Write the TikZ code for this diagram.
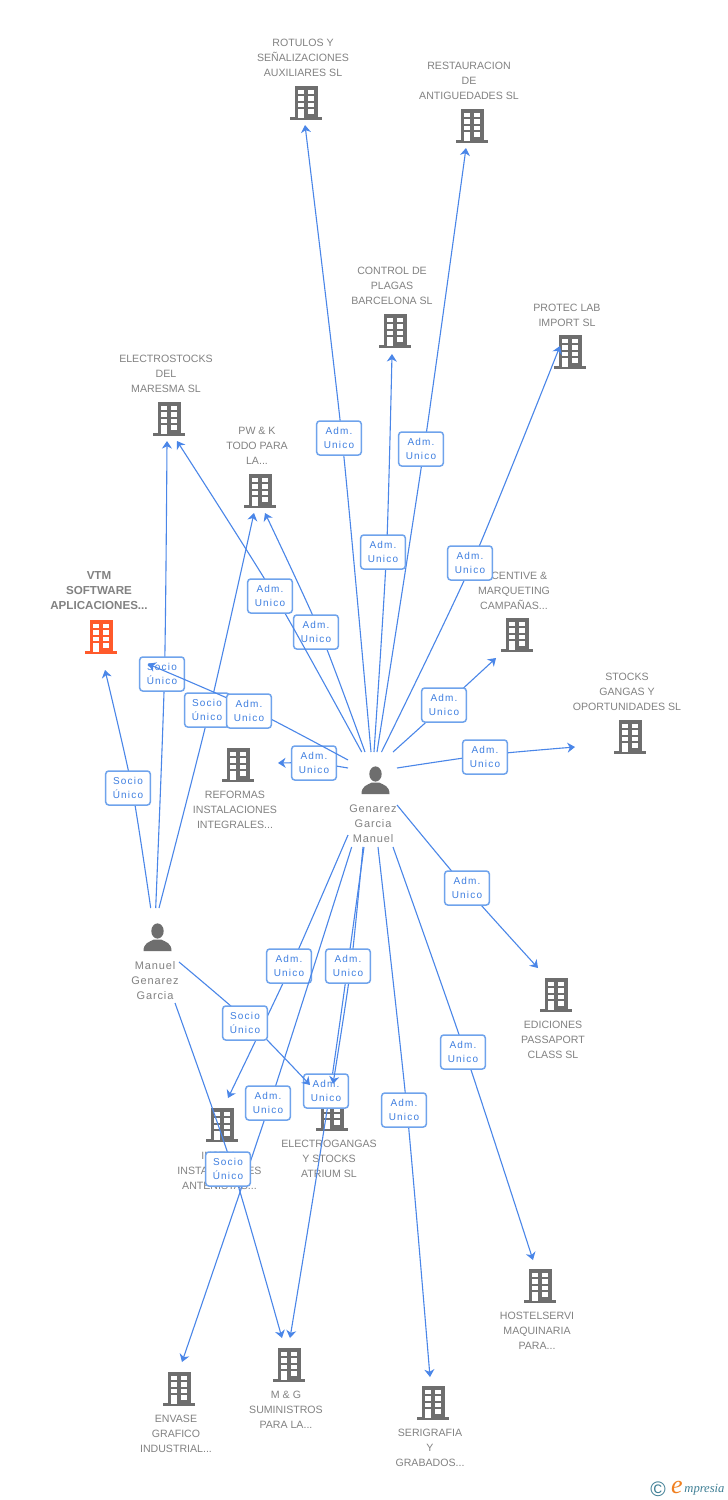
\documentclass[tikz,border=0pt]{standalone}
\usepackage{fontspec}
\setmainfont{Liberation Sans}
\newfontfamily\lblfont[LetterSpace=12]{Liberation Sans}
\newfontfamily\peoplefont[LetterSpace=8]{Liberation Sans}
\newfontfamily\logofont{Liberation Serif}
\usetikzlibrary{arrows.meta}
\definecolor{edgeblue}{HTML}{4A86E8}
\definecolor{boxblue}{HTML}{6FA3EC}
\definecolor{txtblue}{HTML}{3F7FE0}
\definecolor{txtgrey}{HTML}{828282}
\definecolor{bldgrey}{HTML}{6E6E6E}
\definecolor{bldred}{HTML}{FF5A2B}
\definecolor{logoteal}{HTML}{3F7F95}
\definecolor{logoorange}{HTML}{F08020}
\tikzset{
  x=0.5pt,y=-0.5pt,
  conn/.style={draw=edgeblue,line width=0.55pt},
  arrowed/.style={conn,-{Stealth[length=3.8pt,width=5pt,inset=1.2pt]}},
  lblbox/.style={draw=boxblue,line width=0.75pt,fill=white,rounded corners=1.5pt,minimum width=22.3pt,minimum height=17pt,inner sep=0pt,align=center,text=txtblue,font=\lblfont\fontsize{5pt}{7.4pt}\selectfont},
  nametxt/.style={text=txtgrey,align=center,inner sep=0pt,font=\fontsize{5.3pt}{7.5pt}\selectfont},
  boldtxt/.style={nametxt,font=\fontsize{5.8pt}{7.5pt}\selectfont\bfseries},
  persontxt/.style={nametxt,font=\peoplefont\fontsize{5.5pt}{7.5pt}\selectfont},
  iconbox/.style={minimum width=16pt,minimum height=17pt,inner sep=0pt},
}
% building icon: name, x, y, colour
\newcommand{\bldicon}[4]{%
  \node[iconbox] (#1) at (#2,#3) {};
  \begin{scope}[shift={(#2,#3)}]
    \fill[#4] (-11,-17) rectangle (11.5,14.5);
    \fill[#4] (-16,14.3) rectangle (16.3,17);
    \foreach \wy/\wz in {-13/-8.8,-6.7/-2.3,-0.2/4.2}{
      \fill[white] (-7.7,\wy) rectangle (-2.2,\wz);
      \fill[white] (2.3,\wy) rectangle (7.5,\wz);
    }
    \fill[white] (-7.7,6.3) rectangle (-2.2,14.5);
    \fill[white] (2.3,6.3) rectangle (7.5,11);
  \end{scope}}
% person icon: name, x, y
\newcommand{\personicon}[3]{%
  \node[iconbox] (#1) at (#2,#3) {};
  \begin{scope}[shift={(#2,#3)}]
    \fill[bldgrey] (0.5,-6) ellipse (6.2 and 7.6);
    \fill[bldgrey] (-13.5,14) .. controls (-13.5,6) and (-8,5) .. (-3,2.5) -- (4,2.5) .. controls (9,5) and (14.5,6) .. (14.5,14) -- cycle;
  \end{scope}}
% connector: id, start, label centre, point the line passes under the label, tip, label line 1, line 2
\newcommand{\link}[7]{%
  \coordinate (s#1) at (#2);
  \coordinate (c#1) at (#3);
  \coordinate (p#1) at (#4);
  \coordinate (t#1) at (#5);
  \draw[arrowed] plot[smooth,tension=0.45] coordinates {(s#1) (p#1) (t#1)};
  \node[lblbox] (l#1) at (c#1) {#6\\#7};}
\begin{document}
\begin{tikzpicture}
\useasboundingbox (0,0) rectangle (728,1500);
\fill[white] (0,0) rectangle (728,1500);
% companies
\bldicon{rotulos}{306}{103}{bldgrey}
\node[nametxt] (nrotulos) at (303,57.7) {ROTULOS Y\\SEÑALIZACIONES\\AUXILIARES SL};
\bldicon{restauracion}{472}{126}{bldgrey}
\node[nametxt] (nrestauracion) at (469,80.7) {RESTAURACION\\DE\\ANTIGUEDADES SL};
\bldicon{control}{395}{331}{bldgrey}
\node[nametxt] (ncontrol) at (392,285.7) {CONTROL DE\\PLAGAS\\BARCELONA SL};
\bldicon{protec}{570}{352}{bldgrey}
\node[nametxt] (nprotec) at (567,315) {PROTEC LAB\\IMPORT SL};
\bldicon{electrostocks}{169}{419}{bldgrey}
\node[nametxt] (nelectrostocks) at (166,373.7) {ELECTROSTOCKS\\DEL\\MARESMA SL};
\bldicon{pwk}{260}{491}{bldgrey}
\node[nametxt] (npwk) at (257,445.7) {PW \& K\\TODO PARA\\LA...};
\bldicon{vtm}{101}{637}{bldred}
\node[boldtxt] (nvtm) at (99,590.7) {VTM\\SOFTWARE\\APLICACIONES...};
\bldicon{incentive}{517}{635}{bldgrey}
\node[nametxt] (nincentive) at (514,590.7) {INCENTIVE \&\\MARQUETING\\CAMPAÑAS...};
\bldicon{stocks}{630}{737}{bldgrey}
\node[nametxt] (nstocks) at (627,691.7) {STOCKS\\GANGAS Y\\OPORTUNIDADES SL};
\bldicon{reformas}{238}{765}{bldgrey}
\node[nametxt] (nreformas) at (235,809.7) {REFORMAS\\INSTALACIONES\\INTEGRALES...};
\bldicon{ediciones}{556}{995}{bldgrey}
\node[nametxt] (nediciones) at (553,1039.7) {EDICIONES\\PASSAPORT\\CLASS SL};
\bldicon{electrogangas}{332}{1114}{bldgrey}
\node[nametxt] (nelectrogangas) at (329,1158.7) {ELECTROGANGAS\\Y STOCKS\\ATRIUM SL};
\bldicon{instal}{222}{1125}{bldgrey}
\node[nametxt] (ninstal) at (219.5,1170.7) {INSTAL\\INSTALACIONES\\ANTENISTAS...};
\bldicon{hostelservi}{540}{1286}{bldgrey}
\node[nametxt] (nhostelservi) at (537,1330.7) {HOSTELSERVI\\MAQUINARIA\\PARA...};
\bldicon{myg}{289}{1365}{bldgrey}
\node[nametxt] (nmyg) at (286,1409.7) {M \& G\\SUMINISTROS\\PARA LA...};
\bldicon{envase}{179}{1389}{bldgrey}
\node[nametxt] (nenvase) at (176,1433.7) {ENVASE\\GRAFICO\\INDUSTRIAL...};
\bldicon{serigrafia}{433}{1403}{bldgrey}
\node[nametxt] (nserigrafia) at (430,1447.7) {SERIGRAFIA\\Y\\GRABADOS...};
% people
\personicon{genarez}{375}{780}
\node[persontxt] (ngenarez) at (373,823.7) {Genarez\\Garcia\\Manuel};
\personicon{manuel}{157}{937}
\node[persontxt] (nmanuel) at (155,980.7) {Manuel\\Genarez\\Garcia};
% connectors with their labels, in stacking order
\link{a}{371,752}{339,438}{342,438}{305,125}{Adm.}{Unico}
\link{b}{377,752}{421,449}{424,449}{466,148}{Adm.}{Unico}
\link{c}{374,752}{383,552}{386.5,552}{392,354}{Adm.}{Unico}
\link{d}{381.5,752}{470,563}{472,563}{560,346}{Adm.}{Unico}
\link{e}{393,752}{444,705}{445,705}{496,658}{Adm.}{Unico}
\link{f}{397,768}{485,757}{486,755}{575,747}{Adm.}{Unico}
\link{g}{397,805}{467,888}{466,888}{538,968}{Adm.}{Unico}
\link{h}{393,847}{463,1052}{465,1052}{533,1260}{Adm.}{Unico}
\link{i}{378,847}{404,1110}{407,1110}{430,1377}{Adm.}{Unico}
\link{j}{364,847}{326,1091}{330,1091}{290,1338}{Adm.}{Unico}
\link{k}{363,847}{348,966}{351,966}{333,1084}{Adm.}{Unico}
\link{l}{348,835}{289,966}{291,966}{228,1098}{Adm.}{Unico}
\link{m}{351.7,847}{268,1103}{270,1103}{182,1362}{Adm.}{Unico}
\link{n}{348,768}{314,763}{314,763}{278,763}{Adm.}{Unico}
\link{o}{365,752}{316,632}{320,632}{265,513}{Adm.}{Unico}
\link{p}{361.7,752}{270,596}{275,596}{177,441}{Adm.}{Unico}
\link{q}{150.7,908}{128,788}{132,788}{105,670}{Socio}{Único}
\link{r}{155.7,908}{162,674}{164.5,674}{167,441}{Socio}{Único}
\link{s}{159,908}{207,710}{209.5,710}{254,513}{Socio}{Único}
\link{t}{348,760}{249,711}{249,708}{148,664}{Adm.}{Unico}
\link{u}{179,962}{245,1023}{250,1023}{310,1085}{Socio}{Único}
\link{v}{175,1003}{228,1169}{233,1169}{282,1338}{Socio}{Único}
% logo
\node[inner sep=0pt,text=logoteal,font=\fontsize{10.5pt}{10.5pt}\selectfont] (copyr) at (658,1489) {©};
\node[inner sep=0pt,text=logoorange,font=\logofont\itshape\fontsize{13pt}{13pt}\selectfont] (logoe) at (677,1487) {e};
\node[inner sep=0pt,text=logoteal,anchor=west,font=\logofont\itshape\fontsize{6.3pt}{7pt}\selectfont] (logot) at (684,1490) {mpresia};
\end{tikzpicture}
\end{document}
